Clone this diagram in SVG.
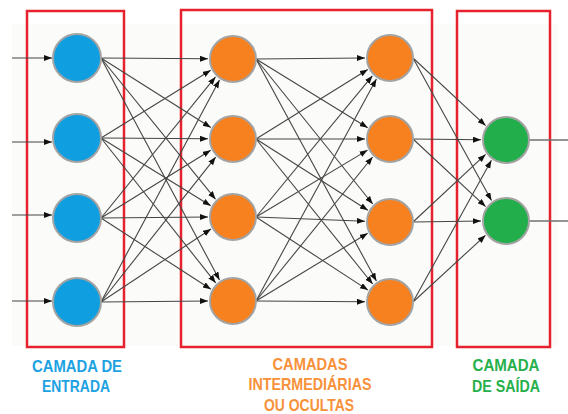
<svg xmlns="http://www.w3.org/2000/svg" width="568" height="414" viewBox="0 0 568 414">
<style>
.box{fill:none;stroke:#e5222e;stroke-width:2.5}
.node circle{stroke:#a3a3a3;stroke-width:2}
.in circle{fill:#0f9fe0}
.hid circle{fill:#f7801f}
.out circle{fill:#21ae4b}
.edge line{stroke:#454545;stroke-width:1.1;marker-end:url(#arr)}
.plain line{stroke:#707070;stroke-width:1.3}
.lbl{font-family:"Liberation Sans",Arial,sans-serif;font-weight:bold;font-size:16.5px;text-anchor:middle}
</style>
<defs>
<marker id="arr" markerUnits="userSpaceOnUse" markerWidth="9" markerHeight="7" refX="8" refY="3" orient="auto" viewBox="0 0 9 7">
<path d="M0,0 L8,3 L0,6 z" fill="#111"/>
</marker>
</defs>
<rect x="0" y="0" width="568" height="414" fill="#ffffff"/>
<rect x="12" y="24" width="546" height="322" fill="#fbfbf9"/>
<g id="boxes">
<rect class="box" x="27" y="11" width="97" height="336"/>
<rect class="box" x="181" y="10" width="251" height="337"/>
<rect class="box" x="457" y="11" width="93" height="336"/>
</g>
<g id="connectors">
<g class="edge">
<line x1="12" y1="58" x2="52" y2="58"/>
<line x1="12" y1="142" x2="52" y2="142"/>
<line x1="12" y1="215" x2="52" y2="215"/>
<line x1="12" y1="301" x2="52" y2="301"/>
<line x1="101" y1="58" x2="208" y2="58.8"/>
<line x1="101" y1="58" x2="210.8" y2="127.5"/>
<line x1="101" y1="58" x2="215.5" y2="199.2"/>
<line x1="101" y1="58" x2="219.5" y2="280"/>
<line x1="101" y1="138" x2="210.7" y2="70.3"/>
<line x1="101" y1="138" x2="208" y2="138.8"/>
<line x1="101" y1="138" x2="210.7" y2="205.7"/>
<line x1="101" y1="138" x2="215.7" y2="282.9"/>
<line x1="101" y1="218" x2="215.5" y2="76.9"/>
<line x1="101" y1="218" x2="210.7" y2="150.3"/>
<line x1="101" y1="218" x2="208" y2="217"/>
<line x1="101" y1="218" x2="210.9" y2="289.3"/>
<line x1="101" y1="302" x2="219.5" y2="80"/>
<line x1="101" y1="302" x2="215.7" y2="157.1"/>
<line x1="101" y1="302" x2="211" y2="229"/>
<line x1="101" y1="302" x2="208" y2="301"/>
<line x1="256" y1="59" x2="365" y2="58"/>
<line x1="256" y1="59" x2="367.7" y2="127.7"/>
<line x1="256" y1="59" x2="372.7" y2="204"/>
<line x1="256" y1="59" x2="376.4" y2="281"/>
<line x1="256" y1="139" x2="367.8" y2="69.5"/>
<line x1="256" y1="139" x2="365" y2="139"/>
<line x1="256" y1="139" x2="367.9" y2="210.3"/>
<line x1="256" y1="139" x2="372.7" y2="284"/>
<line x1="256" y1="217" x2="372.4" y2="75.8"/>
<line x1="256" y1="217" x2="367.6" y2="150.1"/>
<line x1="256" y1="217" x2="365" y2="221.2"/>
<line x1="256" y1="217" x2="368" y2="290.1"/>
<line x1="256" y1="301" x2="376.4" y2="79"/>
<line x1="256" y1="301" x2="372.6" y2="157"/>
<line x1="256" y1="301" x2="367.7" y2="233.2"/>
<line x1="256" y1="301" x2="365" y2="301.8"/>
<line x1="413" y1="58" x2="485.6" y2="125.6"/>
<line x1="413" y1="58" x2="491.5" y2="200.6"/>
<line x1="413" y1="139" x2="481" y2="139.8"/>
<line x1="413" y1="139" x2="485.6" y2="206.6"/>
<line x1="413" y1="222" x2="485.6" y2="154.4"/>
<line x1="413" y1="222" x2="481" y2="221"/>
<line x1="413" y1="302" x2="491.4" y2="160.3"/>
<line x1="413" y1="302" x2="485.5" y2="235.3"/>
</g>
<g class="plain">
<line x1="529" y1="140" x2="568" y2="140"/>
<line x1="529" y1="221" x2="568" y2="221"/>
</g>
</g>
<g id="input-1" class="node in"><circle cx="77" cy="58" r="24"/></g>
<g id="input-2" class="node in"><circle cx="77" cy="138" r="24"/></g>
<g id="input-3" class="node in"><circle cx="77" cy="218" r="24"/></g>
<g id="input-4" class="node in"><circle cx="77" cy="302" r="24"/></g>
<g id="hidden1-1" class="node hid"><circle cx="233" cy="59" r="23"/></g>
<g id="hidden1-2" class="node hid"><circle cx="233" cy="139" r="23"/></g>
<g id="hidden1-3" class="node hid"><circle cx="233" cy="217" r="23"/></g>
<g id="hidden1-4" class="node hid"><circle cx="233" cy="301" r="23"/></g>
<g id="hidden2-1" class="node hid"><circle cx="390" cy="58" r="23"/></g>
<g id="hidden2-2" class="node hid"><circle cx="390" cy="139" r="23"/></g>
<g id="hidden2-3" class="node hid"><circle cx="390" cy="222" r="23"/></g>
<g id="hidden2-4" class="node hid"><circle cx="390" cy="302" r="23"/></g>
<g id="output-1" class="node out"><circle cx="506" cy="140" r="23"/></g>
<g id="output-2" class="node out"><circle cx="506" cy="221" r="23"/></g>
<g id="labels">
<text class="lbl" fill="#1ca2e2" x="77" y="372" textLength="90" lengthAdjust="spacingAndGlyphs">CAMADA DE</text>
<text class="lbl" fill="#1ca2e2" x="76" y="392" textLength="68" lengthAdjust="spacingAndGlyphs">ENTRADA</text>
<text class="lbl" fill="#f7913a" x="310" y="370" textLength="75" lengthAdjust="spacingAndGlyphs">CAMADAS</text>
<text class="lbl" fill="#f7913a" x="310" y="390" textLength="123" lengthAdjust="spacingAndGlyphs">INTERMEDIÁRIAS</text>
<text class="lbl" fill="#f7913a" x="309" y="411" textLength="90" lengthAdjust="spacingAndGlyphs">OU OCULTAS</text>
<text class="lbl" fill="#26b04c" x="506" y="371" textLength="67" lengthAdjust="spacingAndGlyphs">CAMADA</text>
<text class="lbl" fill="#26b04c" x="506" y="392" textLength="68" lengthAdjust="spacingAndGlyphs">DE SAÍDA</text>
</g>
</svg>
